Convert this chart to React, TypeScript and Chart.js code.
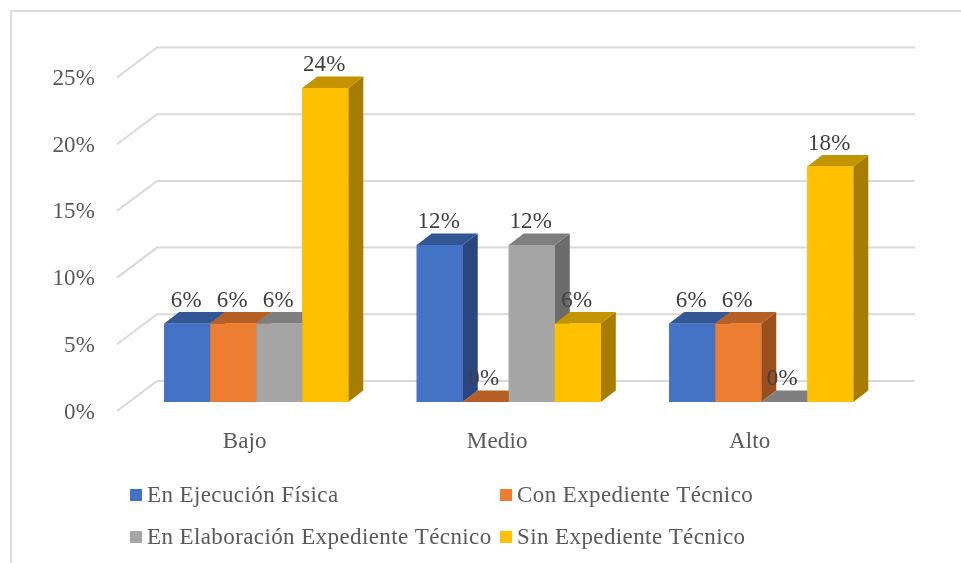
import React, { useEffect, useRef } from "react";
import { Chart, registerables } from "chart.js";

Chart.register(...registerables);

const categories = ["Bajo", "Medio", "Alto"];
const seriesNames = [
  "En Ejecución Física",
  "Con Expediente Técnico",
  "En Elaboración Expediente Técnico",
  "Sin Expediente Técnico",
];
const ejecucion = [5.88, 11.76, 5.88];
const conExpediente = [5.88, 0, 5.88];
const elaboracion = [5.88, 11.76, 0];
const sinExpediente = [23.53, 5.88, 17.65];
const seriesValues = [ejecucion, conExpediente, elaboracion, sinExpediente];

const frontColors = ["#4472C4", "#ED7D31", "#A5A5A5", "#FFC000"];
const topColors = ["#335695", "#B65F25", "#7F7F7F", "#C49400"];
const sideColors = ["#2A4680", "#9A4F1E", "#6B6B6B", "#A67D00"];

const FONT = '"Liberation Serif", "Times New Roman", serif';
const FS = 23;
const DEPTH_X = 15;
const DEPTH_Y = 11.5;

const poly = (ctx: CanvasRenderingContext2D, pts: number[][], fill: string) => {
  ctx.fillStyle = fill;
  ctx.beginPath();
  pts.forEach(([x, y], i) => (i ? ctx.lineTo(x, y) : ctx.moveTo(x, y)));
  ctx.closePath();
  ctx.fill();
};

const chrome3d = {
  id: "chrome3d",
  beforeDraw(chart: any) {
    const { ctx, scales } = chart;
    ctx.letterSpacing = "0.15px";
    // outer frame
    ctx.save();
    ctx.strokeStyle = "#dcdcdc";
    ctx.lineWidth = 2;
    ctx.beginPath();
    ctx.moveTo(11, 563);
    ctx.lineTo(11, 11);
    ctx.lineTo(961, 11);
    ctx.stroke();
    // depth gridlines
    ctx.strokeStyle = "#d9d9d9";
    ctx.lineWidth = 2;
    scales.y.ticks.forEach((t: any) => {
      const y = scales.y.getPixelForValue(t.value);
      ctx.beginPath();
      ctx.moveTo(117, y + 9);
      ctx.lineTo(157, y - 21);
      ctx.lineTo(915, y - 21);
      ctx.stroke();
    });
    ctx.restore();
  },
  afterDatasetsDraw(chart: any) {
    const { ctx } = chart;
    // Repaint bars left to right so every bar hides its left neighbour's side face
    ctx.save();
    chart.data.datasets.forEach((_: any, i: number) => {
      chart.getDatasetMeta(i).data.forEach((bar: any) => {
        const { x, y, base, width } = bar.getProps(["x", "y", "base", "width"], true);
        const l = x - width / 2;
        const r = x + width / 2;
        poly(ctx, [[r, y], [r + DEPTH_X, y - DEPTH_Y], [r + DEPTH_X, base - DEPTH_Y], [r, base]], sideColors[i]);
        poly(ctx, [[l, y], [l + DEPTH_X, y - DEPTH_Y], [r + DEPTH_X, y - DEPTH_Y], [r, y]], topColors[i]);
        bar.draw(ctx);
      });
    });
    ctx.restore();
    // Data labels
    ctx.save();
    ctx.font = `${FS}px ${FONT}`;
    ctx.fillStyle = "#404040";
    ctx.textAlign = "center";
    ctx.textBaseline = "middle";
    chart.data.datasets.forEach((ds: any, i: number) => {
      chart.getDatasetMeta(i).data.forEach((bar: any, j: number) => {
        ctx.fillText(`${Math.round(ds.data[j])}%`, bar.x - (ds.data[j] === 0 ? 2 : 1), bar.y - 23);
      });
    });
    ctx.restore();
  },
  afterDraw(chart: any) {
    const { ctx } = chart;
    const cols = [130, 500];
    const rows = [495, 537];
    ctx.save();
    ctx.letterSpacing = "0.4px";
    ctx.font = `${FS}px ${FONT}`;
    ctx.textBaseline = "middle";
    ctx.textAlign = "left";
    chart.data.datasets.forEach((ds: any, i: number) => {
      const cx = cols[i % 2];
      const cy = rows[Math.floor(i / 2)];
      ctx.fillStyle = frontColors[i];
      ctx.fillRect(cx, cy - 6, 12, 12);
      ctx.fillStyle = "#595959";
      ctx.fillText(ds.label, cx + 17, cy + 1);
    });
    ctx.restore();
  },
};

export default function App() {
  const ref = useRef<HTMLCanvasElement>(null);
  useEffect(() => {
    const chart = new Chart(ref.current as HTMLCanvasElement, {
      type: "bar",
      data: {
        labels: categories,
        datasets: seriesNames.map((label, i) => ({
          label,
          data: seriesValues[i],
          backgroundColor: frontColors[i],
          categoryPercentage: 0.729,
          barPercentage: 1,
        })),
      },
      plugins: [chrome3d],
      options: {
        animation: false,
        responsive: false,
        layout: { padding: { top: 68.5, right: 73.5, left: 0, bottom: 0 } },
        plugins: { legend: { display: false }, tooltip: { enabled: false } },
        scales: {
          x: {
            afterFit: (s: any) => { s.height = 161; },
            grid: { display: false, drawTicks: false },
            border: { display: false },
            ticks: {
              color: "#595959",
              font: { family: FONT, size: FS },
              padding: 26,
              labelOffset: -11.5,
              maxRotation: 0,
            },
          },
          y: {
            min: 0,
            max: 25,
            afterFit: (s: any) => { s.width = 130; },
            grid: { display: false, drawTicks: false },
            border: { display: false },
            ticks: {
              stepSize: 5,
              color: "#595959",
              font: { family: FONT, size: FS },
              padding: 35,
              labelOffset: 10.5,
              callback: (v: any) => `${v}%`,
            },
          },
        },
      } as any,
    });
    return () => chart.destroy();
  }, []);
  return (
    <div style={{ position: "fixed", left: 0, top: 0, width: 961, height: 563, background: "#fff" }}>
      <canvas ref={ref} width={961} height={563} style={{ display: "block" }} />
    </div>
  );
}
